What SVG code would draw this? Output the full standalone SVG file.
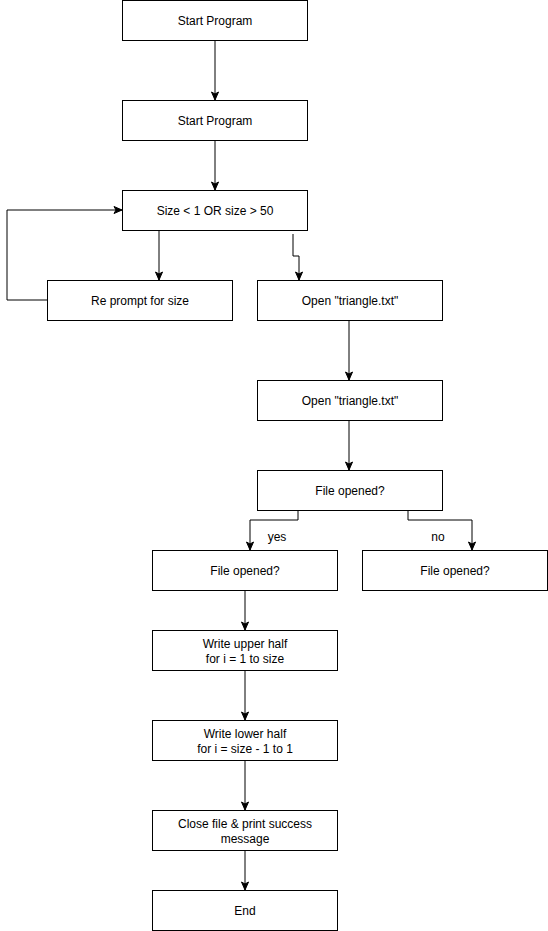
<svg xmlns="http://www.w3.org/2000/svg" width="548" height="931" viewBox="0 0 548 931">
<style>
rect.n{fill:#fff;stroke:#000;stroke-width:1}
text{font-family:"Liberation Sans",Arial,sans-serif;font-size:12px;fill:#000;text-anchor:middle;dominant-baseline:central}
.c path{fill:none;stroke:#000;stroke-width:1;marker-end:url(#a)}
</style>
<defs>
<marker id="a" markerUnits="userSpaceOnUse" markerWidth="10" markerHeight="10" viewBox="0 0 10 10" refX="9" refY="5" orient="auto">
<path d="M1,1.5 L9,5 L1,8.5 L3,5 Z" fill="#000" stroke="#000" stroke-width="1"/>
</marker>
</defs>
<rect width="548" height="931" fill="#fff"/>
<g class="c" id="connectors">
<path d="M215,40 V100"/>
<path d="M215,140 V190"/>
<path d="M159,230 V280"/>
<path d="M47,300 H7 V210 H122"/>
<path d="M293,234 V256 H299 V280"/>
<path d="M349,320 V380"/>
<path d="M349,420 V470"/>
<path d="M298,510 V520 H250 V550"/>
<path d="M408,510 V520 H472 V550"/>
<path d="M245,590 V630"/>
<path d="M245,670 V720"/>
<path d="M245,760 V810"/>
<path d="M245,850 V890"/>
</g>
<g id="n1"><rect class="n" x="122.5" y="0.5" width="185" height="40"/><text x="215" y="21">Start Program</text></g>
<g id="n2"><rect class="n" x="122.5" y="100.5" width="185" height="40"/><text x="215" y="121">Start Program</text></g>
<g id="n3"><rect class="n" x="122.5" y="190.5" width="185" height="40"/><text x="215" y="211">Size &lt; 1 OR size &gt; 50</text></g>
<g id="n4"><rect class="n" x="47.5" y="280.5" width="185" height="40"/><text x="140" y="301">Re prompt for size</text></g>
<g id="n5"><rect class="n" x="257.5" y="280.5" width="185" height="40"/><text x="350" y="301">Open "triangle.txt"</text></g>
<g id="n6"><rect class="n" x="257.5" y="380.5" width="185" height="40"/><text x="350" y="401">Open "triangle.txt"</text></g>
<g id="n7"><rect class="n" x="257.5" y="470.5" width="185" height="40"/><text x="350" y="491">File opened?</text></g>
<g id="l1"><text x="277" y="537">yes</text></g>
<g id="l2"><text x="438" y="537">no</text></g>
<g id="n8"><rect class="n" x="152.5" y="550.5" width="185" height="40"/><text x="245" y="571">File opened?</text></g>
<g id="n9"><rect class="n" x="362.5" y="550.5" width="185" height="40"/><text x="455" y="571">File opened?</text></g>
<g id="n10"><rect class="n" x="152.5" y="630.5" width="185" height="40"/><text x="245" y="644">Write upper half</text><text x="245" y="659">for i = 1 to size</text></g>
<g id="n11"><rect class="n" x="152.5" y="720.5" width="185" height="40"/><text x="245" y="734">Write lower half</text><text x="245" y="749">for i = size - 1 to 1</text></g>
<g id="n12"><rect class="n" x="152.5" y="810.5" width="185" height="40"/><text x="245" y="824">Close file &amp; print success</text><text x="245" y="839">message</text></g>
<g id="n13"><rect class="n" x="152.5" y="890.5" width="185" height="40"/><text x="245" y="911">End</text></g>
</svg>
